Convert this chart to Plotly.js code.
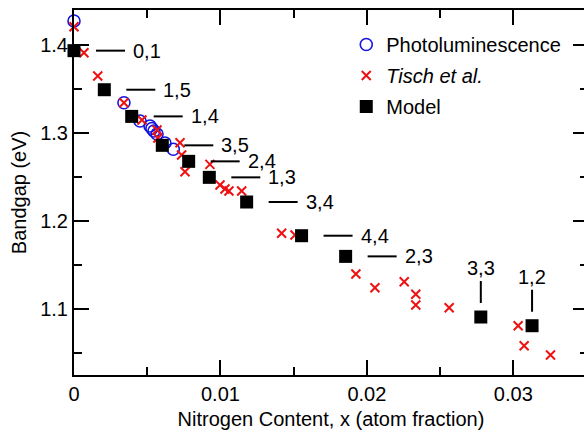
<!DOCTYPE html>
<html>
<head>
<meta charset="utf-8">
<script src="https://cdn.plot.ly/plotly-3.0.1.min.js"></script>
<style>
html,body{margin:0;padding:0;overflow:hidden;background:#fff;}
#plot{width:600px;height:432px;}
</style>
</head>
<body>
<div id="plot"></div>
<script>
// Photoluminescence data
var plX = [0, 0.00341, 0.00451, 0.00519, 0.00532, 0.00546, 0.00567, 0.00621, 0.00678];
var plY = [1.4273, 1.3344, 1.3136, 1.3080, 1.3051, 1.3023, 1.2989, 1.2886, 1.2815];

// Tisch et al. data
var tischX = [0, 0.00068, 0.00162, 0.00341, 0.00464, 0.00567, 0.00573, 0.00724, 0.00735, 0.00758,
              0.00928, 0.00997, 0.01031, 0.01058, 0.01145, 0.01418, 0.01509, 0.01925, 0.02055,
              0.02255, 0.02334, 0.02334, 0.02562, 0.03033, 0.03074, 0.03254];
var tischY = [1.4208, 1.3913, 1.3648, 1.3344, 1.3148, 1.3034, 1.2943, 1.2890, 1.2750, 1.2560,
              1.2644, 1.2409, 1.2364, 1.2341, 1.2341, 1.1860, 1.1841, 1.1398, 1.1242,
              1.1310, 1.1167, 1.1045, 1.1015, 1.0810, 1.0583, 1.0477];

// Model data
var modelX = [0, 0.00207, 0.00394, 0.00603, 0.00783, 0.00924, 0.01179, 0.01554, 0.01855, 0.02778, 0.03128];
var modelY = [1.3936, 1.3492, 1.3189, 1.2860, 1.2678, 1.2496, 1.2216, 1.1833, 1.1598, 1.0909, 1.0810];
var modelLabels = ['0,1', '1,5', '1,4', '3,5', '2,4', '1,3', '3,4', '4,4', '2,3', '3,3', '1,2'];
var labelVertical = [false, false, false, false, false, false, false, false, false, true, true];

var FONT = 'Arial, "Liberation Sans", Helvetica, sans-serif';

var traces = [
  {x: plX, y: plY, type: 'scatter', mode: 'markers', name: 'Photoluminescence',
   legendgroup: 'a', cliponaxis: false,
   marker: {symbol: 'circle-open', size: 12, color: '#1515e0', line: {width: 1.6, color: '#1515e0'}}},
  {x: tischX, y: tischY, type: 'scatter', mode: 'markers', name: '<i>Tisch et al.</i>',
   legendgroup: 'b', cliponaxis: false,
   marker: {symbol: 'x-thin-open', size: 9, color: '#ee1111', line: {width: 2, color: '#ee1111'}}},
  {x: modelX, y: modelY, type: 'scatter', mode: 'markers', name: 'Model',
   legendgroup: 'c', cliponaxis: false,
   marker: {symbol: 'square', size: 13, color: '#000000'}}
];

var shapes = [];
var annotations = [];
for (var i = 0; i < modelX.length; i++) {
  if (labelVertical[i]) {
    shapes.push({type: 'line', xref: 'x', yref: 'y', xsizemode: 'pixel', ysizemode: 'pixel',
      xanchor: modelX[i], yanchor: modelY[i], x0: 0, x1: 0, y0: 14, y1: 36,
      line: {color: '#000', width: 2}});
    annotations.push({x: modelX[i], y: modelY[i], xref: 'x', yref: 'y', text: modelLabels[i],
      showarrow: false, xanchor: 'center', yanchor: 'middle', yshift: 49,
      font: {family: FONT, size: 20, color: '#000'}});
  } else {
    shapes.push({type: 'line', xref: 'x', yref: 'y', xsizemode: 'pixel', ysizemode: 'pixel',
      xanchor: modelX[i], yanchor: modelY[i], x0: 22, x1: 51, y0: 0, y1: 0,
      line: {color: '#000', width: 2}});
    annotations.push({x: modelX[i], y: modelY[i], xref: 'x', yref: 'y', text: modelLabels[i],
      showarrow: false, xanchor: 'left', yanchor: 'middle', xshift: 57,
      font: {family: FONT, size: 20, color: '#000'}});
  }
}

var axisCommon = {
  showgrid: false, zeroline: false, showline: true, linecolor: '#000', linewidth: 2,
  mirror: 'ticks', ticks: 'inside', ticklen: 15, tickwidth: 2, tickcolor: '#000',
  tickfont: {family: FONT, size: 20, color: '#000'}
};

var layout = {
  width: 600, height: 432,
  margin: {l: 74, r: 12, t: 10, b: 57},
  paper_bgcolor: '#fff', plot_bgcolor: '#fff',
  font: {family: FONT, size: 20, color: '#000'},
  xaxis: Object.assign({}, axisCommon, {
    range: [0, 0.0351], dtick: 0.01, tick0: 0,
    minor: {dtick: 0.005, ticklen: 8, tickwidth: 2, tickcolor: '#000', ticks: 'inside'},
    title: {text: 'Nitrogen Content, x (atom fraction)', font: {family: FONT, size: 20, color: '#000'}, standoff: 8}
  }),
  yaxis: Object.assign({}, axisCommon, {
    range: [1.025, 1.4398], dtick: 0.1, tick0: 1,
    minor: {dtick: 0.05, ticklen: 8, tickwidth: 2, tickcolor: '#000', ticks: 'inside'},
    title: {text: 'Bandgap (eV)', font: {family: FONT, size: 20, color: '#000'}, standoff: 8}
  }),
  legend: {x: 0.5297, y: 0.959, xanchor: 'left', yanchor: 'top', bgcolor: 'rgba(0,0,0,0)',
    font: {family: FONT, size: 20, color: '#000'}, traceorder: 'grouped', tracegroupgap: 2},
  showlegend: true,
  shapes: shapes,
  annotations: annotations
};

Plotly.newPlot('plot', traces, layout, {staticPlot: true});
</script>
</body>
</html>
